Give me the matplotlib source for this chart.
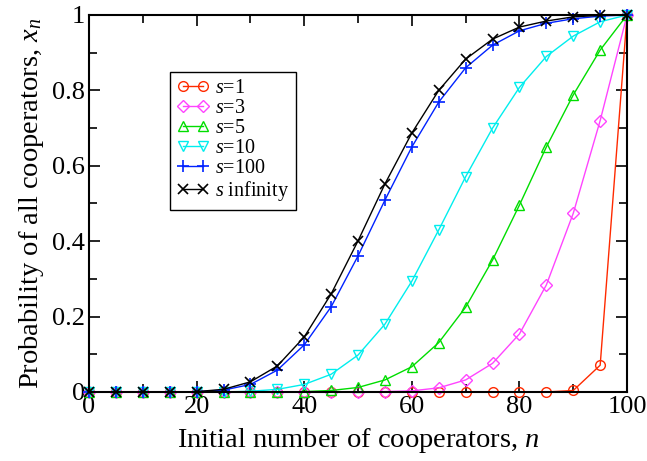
import matplotlib.pyplot as plt
from matplotlib.ticker import MultipleLocator

# ---------------------------------------------------------
# data (markers every 5 cooperators)
# ---------------------------------------------------------
n = [0, 5, 10, 15, 20, 25, 30, 35, 40, 45, 50,
     55, 60, 65, 70, 75, 80, 85, 90, 95, 100]

x_s1 = [0, 0, 0, 0, 0, 0, 0, 0, 0, 0, 0,
        0, 0, 0, 0, 0, 0, 0, 0.004, 0.071, 1.0]
x_s3 = [0, 0, 0, 0, 0, 0, 0, 0, 0, 0, 0,
        0.001, 0.003, 0.011, 0.032, 0.076, 0.154, 0.284, 0.474, 0.72, 1.0]
x_s5 = [0, 0, 0, 0, 0, 0, 0, 0, 0.001, 0.004, 0.012,
        0.032, 0.067, 0.131, 0.225, 0.35, 0.496, 0.65, 0.788, 0.907, 1.0]
x_s10 = [0, 0, 0, 0, 0, 0, 0.002, 0.007, 0.02, 0.047, 0.098,
         0.18, 0.294, 0.43, 0.571, 0.70, 0.808, 0.89, 0.944, 0.982, 1.0]
x_s100 = [0, 0, 0, 0, 0.001, 0.005, 0.02, 0.058, 0.125, 0.226, 0.361,
          0.509, 0.65, 0.769, 0.86, 0.92, 0.958, 0.978, 0.99, 0.997, 1.0]
x_sinf = [0, 0, 0, 0, 0.001, 0.007, 0.027, 0.069, 0.146, 0.26, 0.401,
          0.552, 0.687, 0.80, 0.883, 0.936, 0.968, 0.984, 0.995, 0.999, 1.0]

labels = ["$s$=1", "$s$=3", "$s$=5", "$s$=10", "$s$=100", "$s$ infinity"]

# ---------------------------------------------------------
# style
# ---------------------------------------------------------
plt.rcParams.update({
    "font.family": "Liberation Serif",
    "mathtext.fontset": "custom",
    "mathtext.rm": "Liberation Serif",
    "mathtext.it": "Liberation Serif:italic",
    "xtick.direction": "in",
    "ytick.direction": "in",
})

fig = plt.figure(figsize=(6.47, 4.61), dpi=100)
ax = fig.add_axes([0.1376, 0.1497, 0.8316, 0.8178])

mk = dict(ms=7, mfc="none", mew=1.0, lw=1.0, clip_on=False)
ax.plot(n, x_s1, "-o", color="#ff2a00", label=labels[0], **mk)
ax.plot(n, x_s3, "-D", color="#ff44ff", label=labels[1], ms=6, mfc="none", mew=1.0, lw=1.0, clip_on=False)
ax.plot(n, x_s5, "-^", color="#00dd00", label=labels[2], **mk)
ax.plot(n, x_s10, "-v", color="#00eeee", label=labels[3], **mk)
ax.plot(n, x_s100, "-+", color="#0022ff", label=labels[4], ms=9, mew=1.2, lw=1.0, clip_on=False)
ax.plot(n, x_sinf, "-x", color="black", label=labels[5], ms=7, mew=1.2, lw=1.0, clip_on=False)

ax.set_xlim(0, 100)
ax.set_ylim(0, 1)
ax.xaxis.set_major_locator(MultipleLocator(20))
ax.xaxis.set_minor_locator(MultipleLocator(10))
ax.yaxis.set_minor_locator(MultipleLocator(0.1))
ax.set_yticks([0, 0.2, 0.4, 0.6, 0.8, 1.0])
ax.set_yticklabels(["0", "0.2", "0.4", "0.6", "0.8", "1"])
ax.tick_params(which="both", top=True, right=True, labelsize=19, width=1.2, pad=3)
ax.tick_params(which="major", length=8)
ax.tick_params(which="minor", length=6)
for sp in ax.spines.values():
    sp.set_linewidth(1.5)

ax.set_xlabel("Initial number of cooperators, $n$", fontsize=20.5, labelpad=6)
ax.set_ylabel("Probability of all cooperators, $x_n$", fontsize=20.5, labelpad=4)

leg = ax.legend(loc="upper left", bbox_to_anchor=(0.15, 0.85), fontsize=14.5,
                numpoints=2, handlelength=1.6, fancybox=False, framealpha=1,
                edgecolor="black", borderpad=0.35, labelspacing=0.05,
                handletextpad=0.3, borderaxespad=0)
leg.get_frame().set_linewidth(1.0)

fig.savefig("out.png", dpi=100)
